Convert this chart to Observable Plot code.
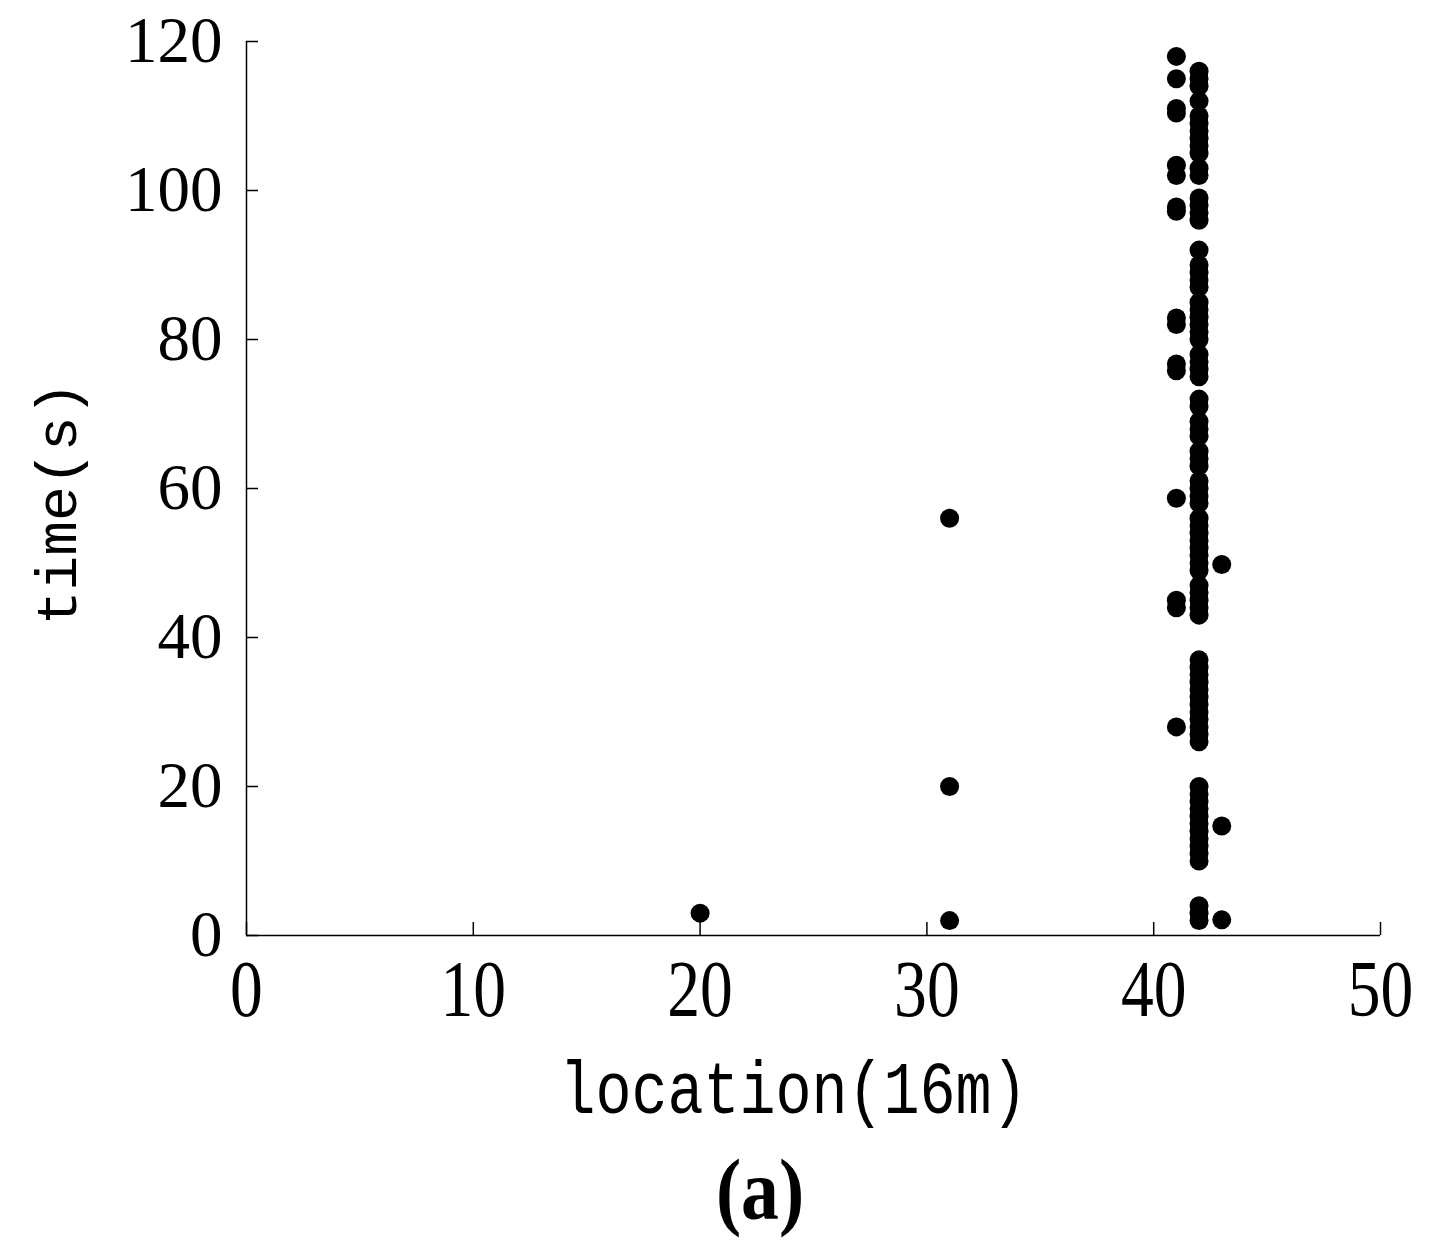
<!DOCTYPE html>
<html><head><meta charset="utf-8">
<script src="https://cdn.jsdelivr.net/npm/d3@7"></script>
<script src="https://cdn.jsdelivr.net/npm/@observablehq/plot@0.6"></script>
<style>
body{margin:0;background:#fff;}
#wrap{position:relative;width:1431px;height:1260px;overflow:hidden;}
#cap{position:absolute;left:0;top:1140px;width:1520px;height:120px;line-height:100px;text-align:center;font-family:"Liberation Serif",serif;font-weight:bold;font-size:86px;color:#000;transform:scaleX(0.88);transform-origin:760px 50px;}
</style>
</head><body>
<div id="wrap"><div id="chart"></div><div id="cap">(a)</div></div>
<script>
// tick values
const xTicks = [0, 10, 20, 30, 40, 50];
const yTicks = [0, 20, 40, 60, 80, 100, 120];
// location columns and their event times (s)
const times20 = [3];
const times31 = [56, 20, 2];
const times41 = [118, 115, 111, 110.4, 103.4, 102, 97.8, 97.2, 82.9, 82, 76.7, 75.8, 58.7, 45, 44, 28];
const times42 = [116, 115, 114, 112, 110, 109, 108, 107, 106, 105, 103, 102,
  99, 98, 97, 96,
  92, 90, 89, 88, 87, 85, 84, 83, 82, 81, 80, 78, 77, 76, 75,
  72, 71, 69, 68, 67, 65, 64, 63, 61, 60, 59, 58, 56, 55, 54, 53, 52, 51, 50, 49, 47, 46, 45, 44, 43,
  37, 36, 35, 34, 33, 32, 31, 30, 29, 28, 27, 26,
  20, 19, 18, 17, 16, 15, 14, 13, 12, 11, 10,
  4, 3, 2];
const times43 = [49.8, 14.7, 2.1];

const columns = [[20, times20], [31, times31], [41, times41], [42, times42], [43, times43]];
const points = columns.flatMap(([loc, ts]) => ts.map(t => ({location: loc, time: t})));

const serif = "Liberation Serif";
const mono = "Liberation Mono";

const chart = Plot.plot({
  width: 1431,
  height: 1140,
  marginTop: 41,
  marginBottom: 205,
  marginLeft: 246,
  marginRight: 51,
  style: {background: "#fff", color: "#000", fontFamily: serif},
  x: {domain: [0, 50], axis: null},
  y: {domain: [0, 120], axis: null},
  marks: [
    Plot.axisX({ticks: xTicks, tickSize: -13, tickFormat: () => "", label: null, strokeWidth: 1.5}),
    Plot.axisY({ticks: yTicks, tickSize: -12, tickFormat: () => "", label: null, strokeWidth: 1.5}),
    Plot.ruleX([0], {stroke: "#000", strokeWidth: 1.5}),
    Plot.ruleY([0], {stroke: "#000", strokeWidth: 1.5}),
    Plot.dot(points, {x: "location", y: "time", r: 9.5, fill: "#000", stroke: "none"}),
    Plot.text(xTicks, {x: d => d, frameAnchor: "bottom", dy: 55, text: d => String(d), fontSize: 80, fontFamily: serif, lineAnchor: "middle", fill: "#000", className: "xtl"}),
    Plot.text(yTicks, {y: d => d, frameAnchor: "left", dx: -24, text: d => String(d), fontSize: 65, fontFamily: serif, textAnchor: "end", lineAnchor: "middle", fill: "#000"}),
    Plot.text(["location(16m)"], {frameAnchor: "bottom", dx: 793 - (246 + 1380) / 2, dy: 153, text: d => d, fontSize: 60, fontFamily: mono, textAnchor: "middle", lineAnchor: "middle", fill: "#000", className: "xlab"}),
    Plot.text(["time(s)"], {frameAnchor: "left", dx: -189, dy: 15, rotate: -90, text: d => d, fontSize: 58, fontFamily: mono, textAnchor: "middle", lineAnchor: "middle", fill: "#000"})
  ]
});
document.getElementById("chart").appendChild(chart);
chart.querySelectorAll(".xtl text").forEach(t => {
  const tr = t.getAttribute("transform") || "";
  t.setAttribute("transform", tr + " scale(0.82,1)");
});
chart.querySelectorAll(".xlab text").forEach(t => {
  const tr = t.getAttribute("transform") || "";
  t.setAttribute("transform", tr + " scale(1,1.25)");
});
</script>
</body></html>
